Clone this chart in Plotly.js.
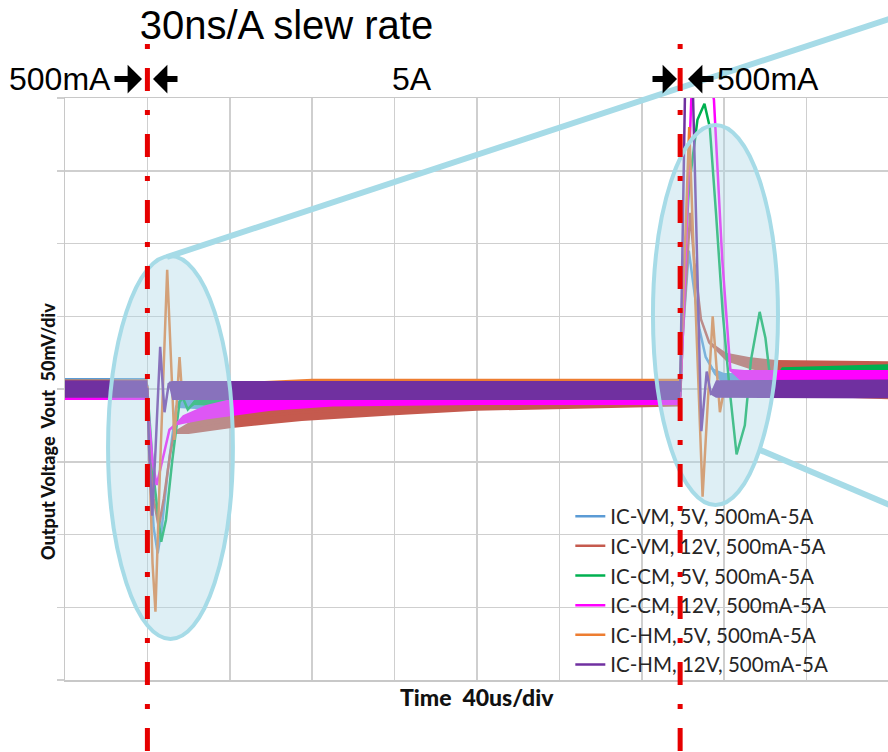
<!DOCTYPE html>
<html><head><meta charset="utf-8">
<script src="https://cdn.plot.ly/plotly-3.0.1.min.js"></script>
<style>html,body{margin:0;padding:0;background:#fff;} #chart{width:888px;height:752px;}</style>
</head><body><div id="chart"></div>
<script>
// ---- data: time in us, output voltage deviation in mV, noise half-band in mV ----
const seriesNames = ["IC-VM, 5V, 500mA-5A","IC-VM, 12V, 500mA-5A","IC-CM, 5V, 500mA-5A","IC-CM, 12V, 500mA-5A","IC-HM, 5V, 500mA-5A","IC-HM, 12V, 500mA-5A"];
const stepTimes = [40, 298.6];

const t_vm5 = [0, 40, 41, 43, 45, 47, 50, 52.5, 54, 56, 80, 120, 200, 298.6, 300, 302.8, 306, 308, 311, 315, 320, 340, 399.5];
const v_vm5 = [2, 2, -40, -95, -113, -95, -55, -30, -12, -9, -9, -6, -5, -5, 40, 95, 60, 41, 22, 12, 7, 6, 6];
const n_vm5 = [5.5, 5.5, 0, 0, 0, 0, 0, 0, 1, 4, 6, 6, 6, 6, 0, 0, 0, 0, 0, 2, 4, 5, 5];

const t_vm12 = [0, 40, 41, 43, 45.5, 48, 51, 53, 60, 80, 100, 115, 160, 200, 260, 298.6, 300, 303.5, 305.5, 308.7, 312.7, 321, 332, 345, 399.5];
const v_vm12 = [-2, -2, -30, -75, -95, -75, -45, -30, -27, -21, -18, -16, -13, -10, -8, -7, 40, 121, 87, 48, 32, 22, 18, 15, 14];
const n_vm12 = [5.5, 5.5, 0, 0, 0, 0, 0, 1, 4, 6, 6, 6, 5, 5, 5, 5, 0, 0, 0, 0, 1, 3, 4, 5, 5];

const t_cm5 = [0, 40, 41, 43, 46.7, 49, 52, 55.6, 57.2, 59.6, 62.9, 80, 120, 200, 298.6, 300, 303, 307, 310.4, 313, 316, 319.3, 322.6, 326, 330, 333, 337.2, 340, 342, 344, 348, 399.5];
const v_cm5 = [-1, -1, -20, -60, -105, -90, -50, -9, -6, -14, -9, -8, -5, -4, -4, 70, 140, 185, 196, 180, 121, 52, 0, -45, -25, 20, 53, 35, 11, 5, 11, 12];
const n_cm5 = [5, 5, 0, 0, 0, 0, 0, 0, 0, 0, 2, 4, 5, 5, 5, 0, 0, 0, 0, 0, 0, 0, 0, 0, 0, 0, 0, 0, 0, 1, 4, 5];

const t_cm12 = [0, 40, 41, 42.5, 44.5, 47, 50.7, 54, 57.2, 68.5, 80, 100, 130, 200, 298.6, 300, 304, 309, 315, 319, 323, 330, 399.5];
const v_cm12 = [-2, -2, -25, -50, -66, -50, -28, -24, -21, -16, -13, -9, -6, -5, -5, 40, 199, 235, 199, 90, 13, 8, 8];
const n_cm12 = [5.5, 5.5, 0, 0, 0, 0, 0, 1, 3, 5, 6, 6, 6, 6, 6, 0, 0, 0, 0, 0, 1, 5, 5];

const t_hm5 = [0, 40, 41, 42.5, 43.9, 46, 49.6, 51.5, 53.1, 55.6, 57, 60, 120, 298.6, 300, 303, 306, 309.5, 312, 314.4, 316, 317.9, 320, 399.5];
const v_hm5 = [1, 1, -50, -120, -153, -60, 82, 20, -35, 22, -7, 0, 0, 0, 60, 180, 60, -74, -10, 50, 20, -16, 0, -1];
const n_hm5 = [5.5, 5.5, 0, 0, 0, 0, 0, 0, 0, 0, 0, 3, 7, 7, 0, 0, 0, 0, 0, 0, 0, 0, 3, 6];

const t_hm12 = [0, 40, 40.8, 42.3, 44, 46.2, 48.3, 50.4, 52, 298.6, 300.9, 302.5, 304.9, 308.9, 311.5, 313.5, 316, 399.5];
const v_hm12 = [0, 0, -40, -87, -40, 29, -16, 4, -1, -1, 199, 330, 199, -29, 12, -3, 0, 0];
const n_hm12 = [6, 6, 0, 0, 0, 0, 0, 1, 6.5, 6.5, 0, 0, 0, 0, 0, 1, 6, 6.5];

const seriesT = [t_vm5, t_vm12, t_cm5, t_cm12, t_hm5, t_hm12];
const seriesV = [v_vm5, v_vm12, v_cm5, v_cm12, v_hm5, v_hm12];
const seriesN = [n_vm5, n_vm12, n_cm5, n_cm12, n_hm5, n_hm12];

// ---- styles ----
const colors = ["#5b9bd5", "#c55a4e", "#00b050", "#ff00ff", "#ed7d31", "#7030a0"];

const traces = [];
for (let i = 0; i < seriesNames.length; i++) {
  const t = seriesT[i], v = seriesV[i], n = seriesN[i];
  const up = v.map((a, k) => a + n[k]);
  const lo = v.map((a, k) => a - n[k]);
  traces.push({
    x: t.concat(t.slice().reverse()),
    y: up.concat(lo.slice().reverse()),
    type: 'scatter', mode: 'lines', fill: 'toself',
    fillcolor: colors[i], line: {width: 0, color: colors[i]},
    showlegend: false, hoverinfo: 'skip'
  });
  traces.push({
    x: t, y: v, name: seriesNames[i], type: 'scatter', mode: 'lines',
    line: {color: colors[i], width: 2.5}
  });
}

const ell = {color: '#a6dbe7', width: 4};
const red = {color: '#e60000', width: 5, dash: '5px,19px,23px,19px'};
const shapes = [
  {type: 'circle', xref: 'x', yref: 'y', x0: 20.9, x1: 81.5, y0: -171.8, y1: 91.4,
   fillcolor: 'rgba(173,216,230,0.4)', line: ell, layer: 'above'},
  {type: 'circle', xref: 'x', yref: 'y', x0: 285.4, x1: 346.1, y0: -79.7, y1: 181.4,
   fillcolor: 'rgba(173,216,230,0.4)', line: ell, layer: 'above'},
  {type: 'line', xref: 'paper', yref: 'paper', x0: 0.1239, y0: 0.7268, x1: 1.02, y1: 1.1445,
   line: {color: '#a6dbe7', width: 6}, layer: 'above'},
  {type: 'line', xref: 'paper', yref: 'paper', x0: 0.8445, y0: 0.3952, x1: 1.02, y1: 0.290,
   line: {color: '#a6dbe7', width: 6}, layer: 'above'}
];
stepTimes.forEach(st => shapes.push({type: 'line', xref: 'x', yref: 'paper', x0: st, x1: st,
  y0: 1.0928, y1: -0.13, line: red, layer: 'above'}));

const big = {family: 'Liberation Sans, Arial, sans-serif', size: 32, color: '#000'};
function arrow(xp, ax) {
  return {xref: 'paper', yref: 'paper', x: xp, y: 1.0326, ax: ax, ay: 0, text: ' ',
    font: {size: 1}, showarrow: true, arrowhead: 1, arrowsize: 0.8, arrowwidth: 6,
    arrowcolor: '#000', standoff: 0};
}
const annotations = [
  {xref: 'paper', yref: 'paper', x: -0.0065, y: 1.0326, text: '500mA', showarrow: false, font: big, xanchor: 'center', yanchor: 'middle'},
  {xref: 'paper', yref: 'paper', x: 0.4222, y: 1.0326, text: '5A', showarrow: false, font: big, xanchor: 'center', yanchor: 'middle'},
  {xref: 'paper', yref: 'paper', x: 0.8536, y: 1.0326, text: '500mA', showarrow: false, font: big, xanchor: 'center', yanchor: 'middle'},
  arrow((142 - 65) / 823, -29),
  arrow((153 - 65) / 823, 26),
  arrow((677 - 65) / 823, -26),
  arrow((688 - 65) / 823, 27),
  {xref: 'paper', yref: 'paper', x: -0.0207, y: 0.4278, text: 'Output Voltage  Vout  50mV/div', textangle: -90,
   showarrow: false, font: {family: 'Lato, sans-serif', size: 18, weight: 900, color: '#111'}, xanchor: 'center', yanchor: 'middle'},
  {xref: 'paper', yref: 'paper', x: 0.5006, y: -0.0292, text: 'Time  40us/div',
   showarrow: false, font: {family: 'Lato, sans-serif', size: 23, weight: 900, color: '#111'}, xanchor: 'center', yanchor: 'middle'}
];

const layout = {
  width: 888, height: 752,
  margin: {l: 65, r: 0, t: 98, b: 72, pad: 0},
  paper_bgcolor: '#fff', plot_bgcolor: '#fff',
  title: {text: '30ns/A slew rate', x: 0.3226, xanchor: 'center', y: 0.9668, yanchor: 'middle',
          font: {family: 'Liberation Sans, Arial, sans-serif', size: 40, color: '#000'}},
  xaxis: {range: [0, 399.5], tick0: 0, dtick: 40, showticklabels: false, showgrid: true,
          gridcolor: '#cfcfcf', gridwidth: 1.5, zeroline: false, showline: true, mirror: true,
          linecolor: '#c8c8c8', linewidth: 1.5, ticks: ''},
  yaxis: {range: [-200, 200], tick0: 0, dtick: 50, showticklabels: false, showgrid: true,
          gridcolor: '#cfcfcf', gridwidth: 1.5, zeroline: false, showline: true,
          linecolor: '#c8c8c8', linewidth: 1.5, ticks: 'outside', ticklen: 7, tickcolor: '#cfcfcf', tickwidth: 1.5},
  showlegend: true,
  legend: {x: 0.614, y: 0.3155, xanchor: 'left', yanchor: 'top', bgcolor: 'rgba(0,0,0,0)',
           font: {family: 'Lato, sans-serif', size: 20.5, color: '#262626'}, itemwidth: 30},
  shapes: shapes,
  annotations: annotations
};

Plotly.newPlot('chart', traces, layout, {displayModeBar: false, staticPlot: true});
</script>
</body></html>
